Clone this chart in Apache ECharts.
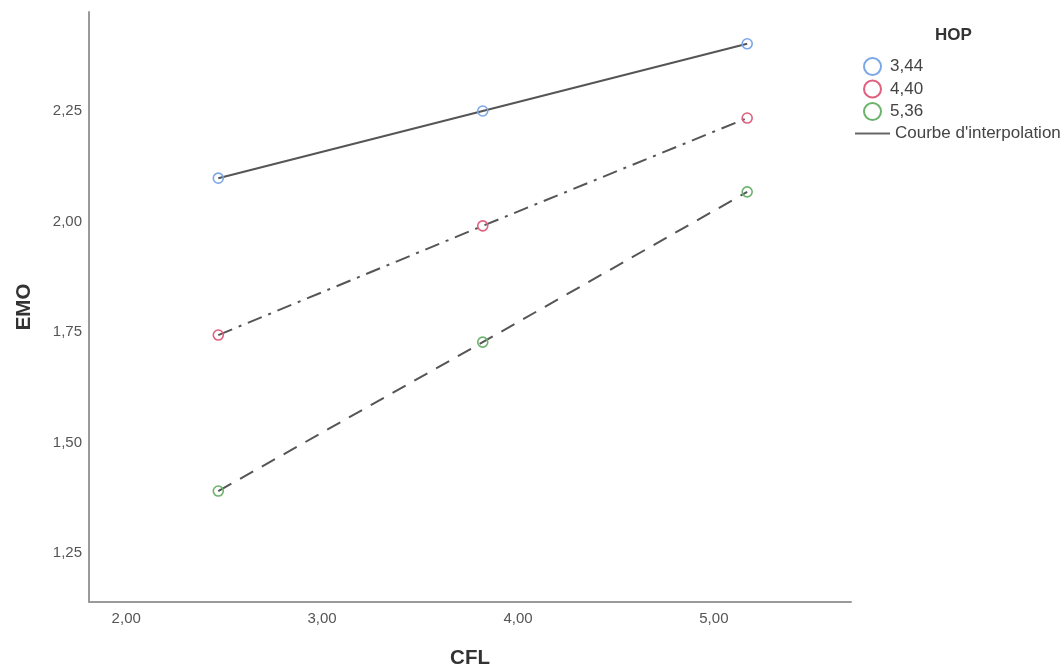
<!DOCTYPE html>
<html>
<head>
<meta charset="utf-8">
<script src="https://cdn.jsdelivr.net/npm/echarts@6/dist/echarts.min.js"></script>
<style>html,body{margin:0;padding:0;background:#fff;}#c{width:1064px;height:670px;}</style>
</head>
<body>
<div id="c"></div>
<script>
const cflValues = [2.47, 3.82, 5.17];
const hopLabels = ['3,44', '4,40', '5,36'];
const emoHop344 = [2.098, 2.250, 2.402];
const emoHop440 = [1.743, 1.990, 2.234];
const emoHop536 = [1.390, 1.727, 2.067];
const xTicks = [2, 3, 4, 5];
const yTicks = [1.25, 1.5, 1.75, 2.0, 2.25];
const fitLabel = "Courbe d'interpolation";

const markerColors = ['#7ba7e8', '#e0607e', '#6db36d'];
const dashes = ['solid', [15, 7, 3, 7], [15, 10]];
const seriesValues = [emoHop344, emoHop440, emoHop536];
const fmt = v => v.toFixed(2).replace('.', ',');
const FF = 'Liberation Sans, Arial, sans-serif';

const series = seriesValues.map((vals, i) => ({
  name: hopLabels[i],
  type: 'line',
  data: cflValues.map((x, j) => [x, vals[j]]),
  symbol: 'circle',
  symbolSize: 10,
  itemStyle: { color: 'rgba(255,255,255,0)', borderColor: markerColors[i], borderWidth: 1.6 },
  lineStyle: { color: '#555', width: 2, type: dashes[i] },
  z: 2
}));
series.push({ name: fitLabel, type: 'line', data: [], symbol: 'none', lineStyle: { color: '#555', width: 2 } });

const chart = echarts.init(document.getElementById('c'));
chart.setOption({
  animation: false,
  backgroundColor: '#fff',
  textStyle: { fontFamily: FF },
  title: {
    text: 'HOP', left: 930, top: 22,
    textStyle: { fontSize: 17, fontWeight: 'bold', color: '#333', fontFamily: FF }
  },
  legend: [
    {
      orient: 'vertical', left: 858, top: 52, itemGap: 3.5,
      itemWidth: 17, itemHeight: 17,
      selectedMode: false,
      data: hopLabels.map((n, i) => ({
        name: n, icon: 'circle',
        itemStyle: { color: 'rgba(255,255,255,0)', borderColor: markerColors[i], borderWidth: 2 }
      })),
      textStyle: { fontSize: 17, color: '#444', padding: [0, 0, 0, 4] }
    },
    {
      orient: 'vertical', left: 850, top: 120, itemWidth: 35, itemHeight: 2,
      selectedMode: false,
      data: [{ name: fitLabel, icon: 'rect', itemStyle: { color: '#666' } }],
      textStyle: { fontSize: 17, color: '#444' }
    }
  ],
  grid: { left: 89, right: 213, top: 12, bottom: 68, containLabel: false, outerBoundsMode: 'none' },
  xAxis: {
    type: 'value', min: 1.81, max: 5.70,
    name: 'CFL', nameLocation: 'middle', nameGap: 46,
    nameTextStyle: { fontSize: 20.5, fontWeight: 'bold', color: '#333' },
    axisLine: { show: true, lineStyle: { color: '#9a9a9a', width: 2 } },
    axisTick: { show: false },
    splitLine: { show: false },
    axisLabel: { customValues: xTicks, formatter: fmt, fontSize: 15, color: '#555', margin: 9 }
  },
  yAxis: {
    type: 'value', min: 1.139, max: 2.474,
    name: 'EMO', nameLocation: 'middle', nameGap: 54, nameRotate: 90,
    nameTextStyle: { fontSize: 20.5, fontWeight: 'bold', color: '#333' },
    axisLine: { show: true, lineStyle: { color: '#9a9a9a', width: 2 } },
    axisTick: { show: false },
    splitLine: { show: false },
    axisLabel: { customValues: yTicks, formatter: fmt, fontSize: 15, color: '#555', margin: 7 }
  },
  series: series
});
</script>
</body>
</html>
